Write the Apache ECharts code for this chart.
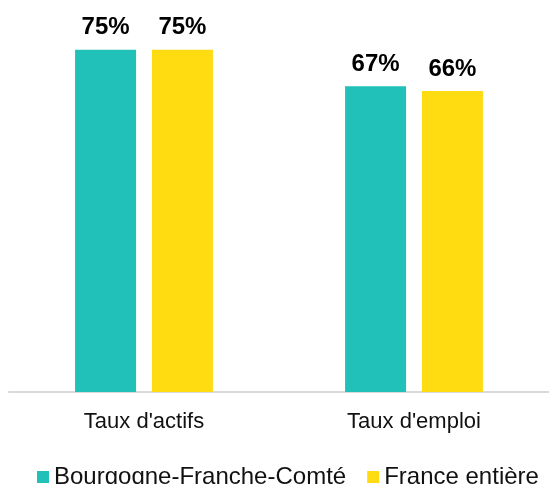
<!DOCTYPE html>
<html>
<head>
<meta charset="utf-8">
<script src="https://cdn.jsdelivr.net/npm/echarts@6/dist/echarts.min.js"></script>
<style>
  html, body { margin: 0; padding: 0; background: #fff; }
  #chart { width: 549px; height: 484px; }
</style>
</head>
<body>
<div id="chart"></div>
<script>
// chart data
var categories = ["Taux d'actifs", "Taux d'emploi"];
var bfcValues = [75, 67];
var franceValues = [75, 66];
var seriesNames = ['Bourgogne-Franche-Comté', 'France entière'];

var chart = echarts.init(document.getElementById('chart'));

var labelStyle = {
    show: true,
    position: 'top',
    distance: 10,
    formatter: '{c}%',
    fontFamily: 'Liberation Sans',
    fontWeight: 'bold',
    fontSize: 24,
    color: '#000'
};

var option = {
    animation: false,
    grid: { left: 9, right: -4, top: 27, bottom: 92 },
    legend: {
        top: 460,
        left: 32,
        itemWidth: 12,
        itemHeight: 12,
        itemGap: 21,
        icon: 'rect',
        textStyle: { fontFamily: 'Liberation Sans', fontSize: 24, color: '#111' },
        data: seriesNames
    },
    xAxis: {
        type: 'category',
        data: categories,
        axisTick: { show: false },
        axisLine: { lineStyle: { color: '#d9d9d9', width: 2 } },
        axisLabel: { fontFamily: 'Liberation Sans', fontSize: 22, color: '#111', margin: 19 }
    },
    yAxis: {
        type: 'value',
        min: 0,
        max: 80,
        show: false
    },
    series: [
        {
            name: seriesNames[0],
            type: 'bar',
            data: bfcValues,
            barWidth: 61,
            barGap: '26%',
            itemStyle: { color: '#21C1B9' },
            label: labelStyle
        },
        {
            name: seriesNames[1],
            type: 'bar',
            data: franceValues,
            barWidth: 61,
            itemStyle: { color: '#FFDB12' },
            label: labelStyle
        }
    ]
};

chart.setOption(option);
</script>
</body>
</html>
